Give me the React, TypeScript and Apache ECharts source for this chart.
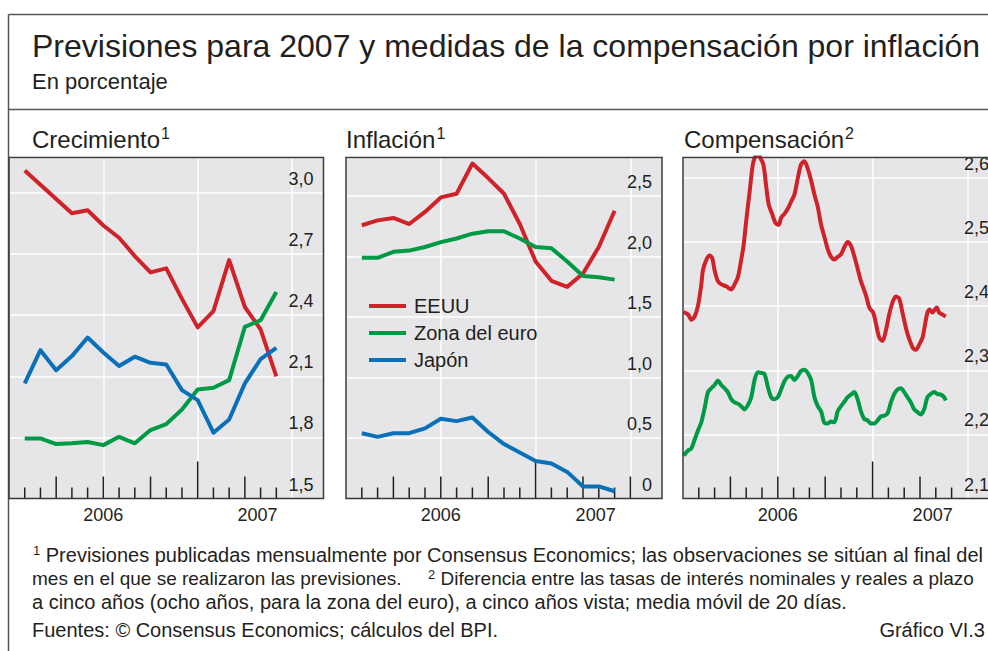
import React, { useEffect, useRef } from "react";
import * as echarts from "echarts";

// ---------- DATA ----------
// months counted from 1 Jan 2006 (0) ; observations at end of month
const forecastMonths = [1, 2, 3, 4, 5, 6, 7, 8, 9, 10, 11, 12, 13, 14, 15, 16, 17];

const growthUS = [3.11, 3.04, 2.97, 2.9, 2.915, 2.84, 2.78, 2.69, 2.61, 2.63, 2.48, 2.34, 2.42, 2.67, 2.44, 2.33, 2.1];
const growthEA = [1.795, 1.795, 1.767, 1.771, 1.777, 1.762, 1.803, 1.771, 1.836, 1.865, 1.937, 2.035, 2.044, 2.081, 2.343, 2.375, 2.514];
const growthJP = [2.065, 2.228, 2.13, 2.199, 2.29, 2.217, 2.15, 2.196, 2.166, 2.158, 2.032, 1.983, 1.823, 1.888, 2.065, 2.184, 2.24];

const inflUS = [2.26, 2.3, 2.32, 2.27, 2.37, 2.49, 2.52, 2.77, 2.65, 2.52, 2.27, 1.96, 1.8, 1.75, 1.86, 2.08, 2.38];
const inflEA = [1.99, 1.99, 2.04, 2.05, 2.08, 2.12, 2.15, 2.19, 2.21, 2.21, 2.15, 2.08, 2.07, 1.96, 1.84, 1.83, 1.81];
const inflJP = [0.54, 0.51, 0.54, 0.54, 0.58, 0.66, 0.64, 0.67, 0.55, 0.45, 0.38, 0.31, 0.29, 0.22, 0.1, 0.1, 0.06];

const compUSX = [0.04, 0.32, 0.53, 0.74, 0.95, 1.16, 1.26, 1.47, 1.68, 1.85, 2.0, 2.21, 2.42, 2.74, 3.05, 3.26, 3.47, 3.68, 3.83, 4.0, 4.21, 4.42, 4.59, 4.74, 4.88, 5.09, 5.26, 5.43, 5.64, 5.85, 6.06, 6.21, 6.42, 6.63, 6.84, 7.05, 7.26, 7.47, 7.68, 7.89, 8.11, 8.32, 8.53, 8.74, 8.95, 9.16, 9.37, 9.58, 9.79, 10.0, 10.21, 10.42, 10.63, 10.84, 11.05, 11.26, 11.58, 11.79, 12.04, 12.21, 12.42, 12.63, 12.84, 13.05, 13.26, 13.47, 13.68, 13.89, 14.15, 14.36, 14.57, 14.74, 14.95, 15.16, 15.33, 15.47, 15.62, 15.79, 15.94, 16.06, 16.21, 16.42, 16.63];
const compUSY = [2.391, 2.387, 2.379, 2.384, 2.401, 2.434, 2.456, 2.472, 2.479, 2.475, 2.456, 2.439, 2.434, 2.431, 2.426, 2.434, 2.445, 2.472, 2.494, 2.533, 2.577, 2.621, 2.635, 2.64, 2.632, 2.621, 2.588, 2.558, 2.544, 2.53, 2.527, 2.538, 2.544, 2.552, 2.563, 2.574, 2.599, 2.621, 2.626, 2.615, 2.596, 2.574, 2.555, 2.527, 2.508, 2.489, 2.477, 2.473, 2.477, 2.481, 2.492, 2.5, 2.494, 2.478, 2.459, 2.439, 2.417, 2.398, 2.39, 2.373, 2.351, 2.346, 2.362, 2.387, 2.406, 2.415, 2.412, 2.39, 2.362, 2.346, 2.334, 2.332, 2.34, 2.351, 2.373, 2.39, 2.395, 2.39, 2.395, 2.398, 2.39, 2.387, 2.384];

const compEAX = [0.04, 0.32, 0.53, 0.74, 0.95, 1.16, 1.37, 1.58, 1.79, 2.0, 2.21, 2.42, 2.63, 2.84, 3.05, 3.26, 3.47, 3.68, 3.89, 4.11, 4.32, 4.53, 4.74, 4.95, 5.16, 5.37, 5.58, 5.79, 6.0, 6.21, 6.42, 6.63, 6.84, 7.05, 7.26, 7.47, 7.68, 7.89, 8.11, 8.32, 8.53, 8.74, 8.95, 9.16, 9.37, 9.58, 9.79, 10.0, 10.21, 10.42, 10.63, 10.84, 11.05, 11.26, 11.47, 11.68, 11.89, 12.11, 12.32, 12.53, 12.74, 12.95, 13.16, 13.37, 13.58, 13.79, 14.0, 14.21, 14.42, 14.63, 14.84, 15.05, 15.26, 15.47, 15.68, 15.89, 16.11, 16.32, 16.53, 16.63];
const compEAY = [2.167, 2.175, 2.178, 2.192, 2.206, 2.219, 2.241, 2.266, 2.272, 2.277, 2.284, 2.277, 2.272, 2.266, 2.255, 2.25, 2.248, 2.244, 2.239, 2.246, 2.258, 2.285, 2.297, 2.296, 2.294, 2.274, 2.258, 2.255, 2.258, 2.27, 2.283, 2.29, 2.291, 2.285, 2.291, 2.299, 2.301, 2.296, 2.285, 2.258, 2.244, 2.236, 2.218, 2.217, 2.22, 2.219, 2.236, 2.244, 2.251, 2.258, 2.262, 2.266, 2.255, 2.236, 2.224, 2.222, 2.217, 2.217, 2.222, 2.228, 2.229, 2.233, 2.25, 2.263, 2.27, 2.272, 2.266, 2.258, 2.25, 2.239, 2.235, 2.231, 2.239, 2.258, 2.263, 2.266, 2.263, 2.262, 2.258, 2.253];

const seriesNames = ["EEUU", "Zona del euro", "Japón"];
const yearLabels = ["2006", "2007"];
const yearLabelPositions = [6, 15.8];
const panelTitles = ["Crecimiento", "Inflación", "Compensación"];
const panelNotes = ["1", "1", "2"];
const yMins = [1.5, 0, 2.1];
const yMaxs = [3.174, 2.82, 2.632];
const yIntervals = [0.3, 0.5, 0.1];
const tickMonthsByPanel = [
  [1, 2, 3, 4, 5, 6, 7, 8, 9, 10, 11, 12, 13, 14, 15, 16, 17],
  [1, 2, 3, 4, 5, 6, 7, 8, 9, 10, 11, 12, 13, 14, 15, 16, 17, 18],
  [1, 2, 3, 4, 5, 6, 7, 8, 9, 10, 11, 12, 13, 14, 15, 16, 17],
];

const title = "Previsiones para 2007 y medidas de la compensación por inflación";
const subtitle = "En porcentaje";
const foot1Note = "1";
const foot1Text = "Previsiones publicadas mensualmente por Consensus Economics; las observaciones se sitúan al final del";
const foot2Text = "mes en el que se realizaron las previsiones.";
const foot2Note = "2";
const foot2bText = "Diferencia entre las tasas de interés nominales y reales a plazo";
const foot3Text = "a cinco años (ocho años, para la zona del euro), a cinco años vista; media móvil de 20 días.";
const sourceText = "Fuentes: © Consensus Economics; cálculos del BPI.";
const chartId = "Gráfico VI.3";

// ---------- STYLE ----------
const FONT = "'Liberation Sans', Arial, Helvetica, sans-serif";
const TXT = "#231f20";
const COLORS = ["#cf2229", "#009a45", "#0a71b9"];
const BG = "#e6e6e9";
const panels = [
  { left: 9, width: 314.5 },
  { left: 346, width: 316 },
  { left: 683, width: 316 },
];
const GTOP = 157.5;
const GH = 341;

export default function App() {
  const ref = useRef<HTMLDivElement>(null);

  useEffect(() => {
    if (!ref.current) return;
    const chart = echarts.init(ref.current, undefined, { renderer: "svg" });

    const grids = panels.map((p) => ({
      left: p.left,
      top: GTOP,
      width: p.width,
      height: GH,
      show: true,
      backgroundColor: BG,
      borderWidth: 0,
      outerBoundsMode: "none",
      containLabel: false,
    }));

    const xAxes = panels.map((_, i) => ({
      type: "value",
      gridIndex: i,
      min: 0,
      max: 20,
      interval: 6,
      axisLine: { show: false },
      axisTick: { show: false },
      splitLine: { show: true, lineStyle: { color: "#ffffff", width: 1.5 } },
      axisLabel: {
        show: true,
        customValues: yearLabelPositions,
        margin: 7,
        fontSize: 18,
        fontFamily: FONT,
        color: TXT,
        formatter: (v: number) => {
          const k = yearLabelPositions.findIndex((p) => Math.abs(p - v) < 1e-6);
          return k >= 0 ? yearLabels[k] : "";
        },
      },
    }));

    const yAxes = panels.map((_, i) => ({
      type: "value",
      gridIndex: i,
      position: "right",
      min: yMins[i],
      max: yMaxs[i],
      interval: yIntervals[i],
      axisLine: { show: false },
      axisTick: { show: false },
      splitLine: { show: true, lineStyle: { color: "#ffffff", width: 1.5 } },
      axisLabel: {
        inside: true,
        margin: 10,
        showMaxLabel: false,
        fontSize: 18,
        fontFamily: FONT,
        color: TXT,
        verticalAlign: "bottom",
        padding: [0, 0, 5, 0],
        formatter: (v: number) => {
          const q = (v - yMins[i]) / yIntervals[i];
          if (Math.abs(q - Math.round(q)) > 1e-6) return "";
          if (Math.abs(v) < 1e-9) return "0";
          return v.toFixed(1).replace(".", ",");
        },
      },
    }));

    const lineSeries = (name: string, idx: number, data: number[][], color: string, smooth: number | boolean) => ({
      type: "line",
      name,
      xAxisIndex: idx,
      yAxisIndex: idx,
      data,
      showSymbol: false,
      symbol: "none",
      smooth,
      lineStyle: { color, width: 4, join: "round" },
      itemStyle: { color },
      z: 3,
      silent: true,
    });

    const pairs = (xs: number[], ys: number[]) => ys.map((v, k) => [xs[k], v]);

    const series: any[] = [
      lineSeries(seriesNames[0], 0, pairs(forecastMonths, growthUS), COLORS[0], false),
      lineSeries(seriesNames[1], 0, pairs(forecastMonths, growthEA), COLORS[1], false),
      lineSeries(seriesNames[2], 0, pairs(forecastMonths, growthJP), COLORS[2], false),
      lineSeries(seriesNames[0], 1, pairs(forecastMonths, inflUS), COLORS[0], false),
      lineSeries(seriesNames[1], 1, pairs(forecastMonths, inflEA), COLORS[1], false),
      lineSeries(seriesNames[2], 1, pairs(forecastMonths, inflJP), COLORS[2], false),
      lineSeries(seriesNames[0], 2, pairs(compUSX, compUSY), COLORS[0], 0.3),
      lineSeries(seriesNames[1], 2, pairs(compEAX, compEAY), COLORS[1], 0.3),
    ];

    tickMonthsByPanel.forEach((ticks, i) => {
      series.push({
        type: "custom",
        xAxisIndex: i,
        yAxisIndex: i,
        silent: true,
        z: 1,
        encode: { x: 0, y: 1 },
        data: ticks.map((m) => [m, yMins[i], m % 12 === 0 ? 2 : m % 3 === 0 ? 1 : 0]),
        renderItem: (_p: any, api: any) => {
          const pt = api.coord([api.value(0), api.value(1)]);
          const len = [11, 22, 37][api.value(2)];
          return {
            type: "line",
            shape: { x1: pt[0], y1: pt[1], x2: pt[0], y2: pt[1] - len },
            style: { stroke: "#231f20", lineWidth: 1.5 },
          };
        },
      });
    });

    const text = (t: string, x: number, y: number, size: number, align = "left") => ({
      type: "text",
      x,
      y,
      silent: true,
      style: {
        text: t,
        fontSize: size,
        fontFamily: FONT,
        fill: TXT,
        align,
        verticalAlign: "middle",
      },
    });

    const supText = (main: string, note: string, x: number, y: number, size: number, supSize: number, raise: number, before: boolean) => ({
      type: "text",
      x,
      y,
      silent: true,
      style: {
        text: before ? `{s|${note}}{t|\u00a0${main}}` : `{t|${main}}{s|${note}}`,
        fontFamily: FONT,
        fill: TXT,
        align: "left",
        verticalAlign: "middle",
        rich: {
          t: { fontSize: size, fontFamily: FONT, fill: TXT, lineHeight: size },
          s: { fontSize: supSize, fontFamily: FONT, fill: TXT, lineHeight: supSize, padding: [0, 0, raise, 1] },
        },
      },
    });

    const graphic: any[] = [
      { type: "line", silent: true, z: 50, shape: { x1: 8.5, y1: 14.5, x2: 988, y2: 14.5 }, style: { stroke: "#555", lineWidth: 1.5 } },
      { type: "line", silent: true, z: 50, shape: { x1: 8.5, y1: 14.5, x2: 8.5, y2: 651 }, style: { stroke: "#555", lineWidth: 1.5 } },
      { type: "line", silent: true, z: 50, shape: { x1: 8.5, y1: 109.5, x2: 988, y2: 109.5 }, style: { stroke: "#555", lineWidth: 1.5 } },
      text(title, 32, 46, 32),
      text(subtitle, 32, 81.5, 22),
      supText(panelTitles[0], panelNotes[0], 32, 139, 24, 16, 12, false),
      supText(panelTitles[1], panelNotes[1], 346, 139, 24, 16, 12, false),
      supText(panelTitles[2], panelNotes[2], 684, 139, 24, 16, 12, false),
      supText(foot1Text, foot1Note, 32, 554.5, 20, 13, 8, true),
      text(foot2Text, 32, 578.5, 19),
      supText(foot2bText, foot2Note, 427, 578.5, 19, 13, 8, true),
      text(foot3Text, 32, 602, 20),
      text(sourceText, 32, 630, 20),
      text(chartId, 985, 630, 20, "right"),
      ...panels.map((p) => ({
        type: "rect",
        silent: true,
        z: 60,
        shape: { x: p.left, y: GTOP, width: p.width, height: GH },
        style: { fill: "none", stroke: "#3a3a3a", lineWidth: 1.5 },
      })),
    ];

    chart.setOption({
      animation: false,
      grid: grids,
      xAxis: xAxes,
      yAxis: yAxes,
      series,
      graphic,
      legend: {
        show: true,
        orient: "vertical",
        left: 364,
        top: 291,
        icon: "rect",
        itemWidth: 37,
        itemHeight: 4,
        itemGap: 7,
        selectedMode: false,
        data: seriesNames,
        textStyle: { fontSize: 20, fontFamily: FONT, color: TXT, lineHeight: 20, padding: [0, 0, 0, 3] },
      },
    });

    return () => chart.dispose();
  }, []);

  return (
    <div
      ref={ref}
      style={{ position: "fixed", left: 0, top: 0, width: 988, height: 651, background: "#ffffff", overflow: "hidden" }}
    />
  );
}
